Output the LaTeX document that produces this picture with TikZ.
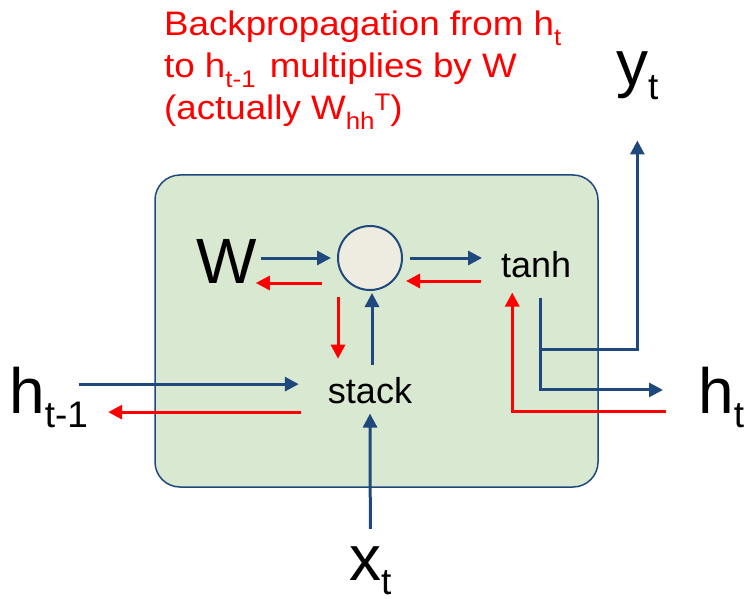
\documentclass[tikz,border=0pt]{standalone}
\usepackage{fontspec}
\setmainfont{Liberation Sans}
\newfontfamily\notefont{Liberation Sans}[FakeStretch=1.08]
\usepackage{tikz}
\usetikzlibrary{arrows.meta,calc}

\definecolor{arrowblue}{RGB}{31,73,125}
\definecolor{cellgreen}{RGB}{216,232,209}
\definecolor{opfill}{RGB}{238,236,225}

\newcommand{\bigsub}[1]{\raisebox{-14pt}{\fontsize{37}{37}\selectfont #1}}
\newcommand{\notesub}[1]{\raisebox{-10pt}{\fontsize{24}{24}\selectfont #1}}
\newcommand{\notesup}[1]{\raisebox{9pt}{\fontsize{24}{24}\selectfont #1}}

\begin{document}
\begin{tikzpicture}[x=1pt, y=-1pt,
    fwd/.style={draw=arrowblue, line width=3pt, -{Triangle[length=14pt,width=14pt]}},
    bwd/.style={draw=red, line width=3pt, -{Triangle[length=14pt,width=14pt]}},
    big/.style={inner sep=0pt, font=\fontsize{64}{64}\selectfont},
    mid/.style={inner sep=0pt, font=\fontsize{36}{36}\selectfont}]
  \useasboundingbox (0,0) rectangle (750,599);
  % === Bunka ===
  \node[draw=arrowblue, line width=1.5pt, fill=cellgreen, rounded corners=25pt,
    minimum width=443pt, minimum height=312pt, inner sep=0pt] (cell) at (376.5,331) {};
  % === Poznamka ===
  \node[inner sep=0pt, anchor=north west, align=left, text=red,
    font=\notefont\fontsize{34}{42}\selectfont] (note) at (164,11)
    {Backpropagation from h\notesub{t}\\
     to h\notesub{t-1}\hspace{4pt} multiplies by W\\
     (actually W\notesub{hh}\notesup{T})};
  % === Uzly ===
  \node[big, anchor=base west] (W) at (196,283) {W};
  \node[draw=arrowblue, line width=2pt, fill=opfill, circle, minimum size=64pt,
    inner sep=0pt] (circ) at (370,258) {};
  \node[mid, anchor=base west] (tanh) at (501,277) {tanh};
  \node[mid, anchor=base] (stack) at (370,403) {stack};
  \node[big, anchor=base west] (hprev) at (9,413) {h\bigsub{t-1}};
  \node[big, anchor=base west] (hnext) at (698,413) {h\bigsub{t}};
  \node[big, anchor=base west] (yt) at (616,86) {y\bigsub{t}};
  \node[big, anchor=base west] (xt) at (349,580) {x\bigsub{t}};
  % === Dopredny pruchod ===
  \draw[fwd] ($(W.east |- circ.west)+(4,0)$) -- ($(circ.west)+(-6,0)$);
  \draw[fwd] ($(circ.east)+(7,0)$) -- ($(tanh.west |- circ.east)+(-19,0)$);
  \draw[fwd] ($(stack.north)+(2,-12)$) -- ($(circ.south)+(2,2)$);
  \draw[fwd] ($(hprev.east |- stack.west)+(-9,-6)$) -- ($(stack.west)+(-29,-6)$);
  \draw[fwd] ($(xt.north)+(0,-17)$) -- ($(stack.south)+(0,10)$);
  \draw[fwd] ($(tanh.south)+(4,20)$) |- ($(hnext.west)+(-35,-7)$);
  \draw[fwd] ($(tanh.south)+(4,72)$) -| ($(yt.south)+(0,40)$);
  % === Zpetne sireni ===
  \draw[bwd] ($(circ.west)+(-15,25)$) -- ($(W.east |- circ.west)+(-1,25)$);
  \draw[bwd] ($(tanh.west |- circ.east)+(-20,23)$) -- ($(circ.east)+(3,23)$);
  \draw[bwd] ($(circ.south)+(-32,6)$) -- ($(stack.north)+(-32,-18)$);
  \draw[bwd] ($(stack.west)+(-27,22)$) -- ($(hprev.east |- stack.west)+(20,22)$);
  \draw[bwd] ($(hnext.west)+(-32,15)$) -| ($(tanh.south)+(-24,15)$);
\end{tikzpicture}
\end{document}
